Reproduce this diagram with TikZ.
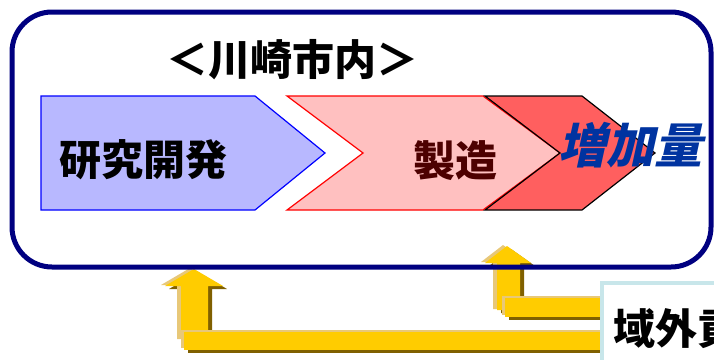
\documentclass[tikz,border=0pt]{standalone}
\usepackage{fontspec}
\newfontfamily\cjk{Noto Sans CJK JP}
\newfontfamily\cjkit{Noto Sans CJK JP}[FakeSlant=0.22]
\definecolor{navyb}{RGB}{0,0,128}
\definecolor{lav}{RGB}{184,184,255}
\definecolor{pinkf}{RGB}{255,192,192}
\definecolor{redf}{RGB}{255,95,95}
\definecolor{maroon}{RGB}{77,0,0}
\definecolor{incblue}{RGB}{0,51,160}
\definecolor{gold}{RGB}{255,204,0}
\definecolor{goldlt}{RGB}{232,200,120}
\definecolor{golddk}{RGB}{128,96,0}
\definecolor{cyanb}{RGB}{200,230,234}
\tikzset{
  lbl/.style={font=\cjk\bfseries\fontsize{42}{42}\selectfont, inner sep=0pt},
  yarrow/.style={fill=gold, draw=none},
  ylight/.style={fill=goldlt, draw=none},
  ydark/.style={fill=golddk, draw=none},
}
\begin{document}
\begin{tikzpicture}[x=1pt,y=-1pt]
\useasboundingbox (0,0) rectangle (714,359);
% yellow arrows (drawn first, under border)
\foreach \dx/\dy/\st in {4/3/ydark, -4/-1/ylight, 0/0/yarrow}{
  \fill[\st] (194+\dx,269+\dy) -- (223+\dx,286+\dy) -- (208+\dx,286+\dy) -- (208+\dx,340+\dy) -- (181+\dx,340+\dy) -- (181+\dx,286+\dy) -- (165+\dx,286+\dy) -- cycle;
}
\foreach \dx/\dy/\st in {4/3/ydark, -3/-2/ylight, 0/0/yarrow}{
  \fill[\st] (184+\dx,332+\dy) rectangle (608+\dx,350+\dy);
}
\foreach \dx/\dy/\st in {4/3/ydark, -4/-1/ylight, 0/0/yarrow}{
  \fill[\st] (507+\dx,246+\dy) -- (531+\dx,263+\dy) -- (520+\dx,263+\dy) -- (520+\dx,310+\dy) -- (497+\dx,310+\dy) -- (497+\dx,263+\dy) -- (485+\dx,263+\dy) -- cycle;
}
\foreach \dx/\dy/\st in {4/3/ydark, -3/-2/ylight, 0/0/yarrow}{
  \fill[\st] (505+\dx,298+\dy) rectangle (608+\dx,317+\dy);
}
% outer rounded frame
\draw[navyb, line width=5pt, rounded corners=40pt] (12,12) rectangle (711,267);
\node[lbl, anchor=center] (title) at (292,60) {＜川崎市内＞};
% chevrons
\draw[blue, fill=lav, line width=1.2pt] (41,96) -- (255,96) -- (325,153) -- (255,210) -- (41,210) -- cycle;
\draw[red, fill=pinkf, line width=1.2pt] (287,96) -- (483,96) -- (560,153) -- (483,210) -- (287,210) -- (363,153) -- cycle;
\draw[black, fill=redf, line width=1.2pt] (485,96) -- (582,96) -- (655,153) -- (582,210) -- (485,210) -- (560,153) -- cycle;
\node[lbl] (rd) at (143,160) {研究開発};
\node[lbl, text=maroon] (mfg) at (455,161) {製造};
\node[inner sep=0pt, font=\cjkit\bfseries\fontsize{48}{48}\selectfont, text=incblue] (inc) at (630,145) {増加量};
% outside box
\draw[cyanb, fill=white, line width=4pt] (602,283) rectangle (730,375);
\node[lbl, anchor=west] (ext) at (613,329) {域外貢献};
\end{tikzpicture}
\end{document}
